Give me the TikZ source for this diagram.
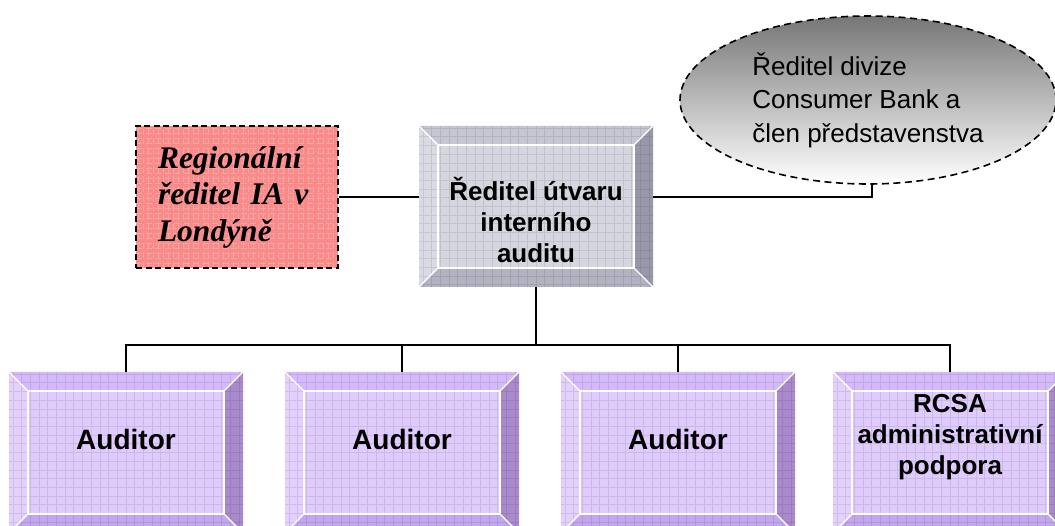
\documentclass[tikz,border=0pt]{standalone}
\usepackage{fontspec}
\setmainfont{Liberation Serif}
\setsansfont{Liberation Sans}
\usetikzlibrary{shapes.geometric}

% purple staff boxes
\definecolor{pface}{RGB}{224,204,252}
\definecolor{ptop}{RGB}{212,186,250}
\definecolor{pleft}{RGB}{228,208,253}
\definecolor{pright}{RGB}{168,138,205}
\definecolor{pbot}{RGB}{194,166,238}
% grey head box
\definecolor{gface}{RGB}{214,214,224}
\definecolor{gtop}{RGB}{198,198,210}
\definecolor{gleft}{RGB}{218,218,228}
\definecolor{gright}{RGB}{152,152,168}
\definecolor{gbot}{RGB}{178,178,194}
% regional box and board ellipse
\definecolor{regred}{RGB}{248,138,138}
\definecolor{ellgrey}{RGB}{118,118,118}

\def\ppb{path picture bounding box}

\tikzset{
  bevelbox/.style n args={5}{rectangle, inner sep=0pt,
    minimum width=234pt, minimum height=161pt,
    path picture={
      \fill[#1] ([shift={(19pt,-19pt)}]\ppb.north west) rectangle ([shift={(-19pt,19pt)}]\ppb.south east);
      \fill[#2] (\ppb.north west) -- (\ppb.north east) -- ([shift={(-19pt,-19pt)}]\ppb.north east) -- ([shift={(19pt,-19pt)}]\ppb.north west) -- cycle;
      \fill[#3] (\ppb.north west) -- (\ppb.south west) -- ([shift={(19pt,19pt)}]\ppb.south west) -- ([shift={(19pt,-19pt)}]\ppb.north west) -- cycle;
      \fill[#4] (\ppb.north east) -- (\ppb.south east) -- ([shift={(-19pt,19pt)}]\ppb.south east) -- ([shift={(-19pt,-19pt)}]\ppb.north east) -- cycle;
      \fill[#5] (\ppb.south west) -- (\ppb.south east) -- ([shift={(-19pt,19pt)}]\ppb.south east) -- ([shift={(19pt,19pt)}]\ppb.south west) -- cycle;
      \draw[black, opacity=.09, line width=.8pt, step=8.7pt] (\ppb.south west) grid (\ppb.north east);
      \draw[white, line width=1.4pt] ([shift={(19pt,-19pt)}]\ppb.north west) rectangle ([shift={(-19pt,19pt)}]\ppb.south east);
      \draw[white, line width=1.4pt] (\ppb.north west) -- ++(19pt,-19pt);
      \draw[white, line width=1.4pt] (\ppb.north east) -- ++(-19pt,-19pt);
      \draw[white, line width=1.4pt] (\ppb.south west) -- ++(19pt,19pt);
      \draw[white, line width=1.4pt] (\ppb.south east) -- ++(-19pt,19pt);
    }},
  purplebox/.style={bevelbox={pface}{ptop}{pleft}{pright}{pbot}},
  greybox/.style={bevelbox={gface}{gtop}{gleft}{gright}{gbot}},
  boxtext/.style={align=center, inner sep=0pt, font=\sffamily\bfseries\fontsize{26}{31}\selectfont},
  audtext/.style={inner sep=0pt, font=\sffamily\bfseries\fontsize{28}{32}\selectfont},
  regbox/.style={rectangle, draw=black, line width=1.8pt, dash pattern=on 6pt off 3.5pt,
    fill=regred, minimum width=202pt, minimum height=142pt, text width=158pt,
    inner xsep=22pt, inner ysep=0pt, align=left,
    font=\rmfamily\bfseries\itshape\fontsize{31.5}{36.5}\selectfont,
    path picture={\draw[white, opacity=.22, line width=.7pt, step=5pt] (\ppb.south west) grid (\ppb.north east);}},
  boardell/.style={ellipse, draw=black, line width=1.6pt, dash pattern=on 7pt off 4.5pt,
    top color=ellgrey, bottom color=white, minimum width=376pt, minimum height=168pt,
    inner sep=0pt, align=left, font=\sffamily\fontsize{26}{33.5}\selectfont},
  conn/.style={line width=2pt},
}

\begin{document}
\begin{tikzpicture}[x=1pt, y=-1pt]
  \clip (0,0) rectangle (1055,526);
  \fill[white] (0,0) rectangle (1055,526);

  % upper row
  \node[regbox] (reg) at (237,197) {Regionální\\ředitel IA v\\Londýně};
  \node[greybox] (ceo) at (536,206.5) {};
  \node[boxtext] (ceotext) at ([yshift=-13pt]ceo.center) {Ředitel útvaru\\interního\\auditu};
  \node[boardell] (board) at (868,100) {Ředitel divize\\Consumer Bank a\\člen představenstva};

  % lower row
  \node[purplebox] (a1) at (126,452.5) {};
  \node[purplebox] (a2) at (402,452.5) {};
  \node[purplebox] (a3) at (678,452.5) {};
  \node[purplebox] (rcsa) at (950,452.5) {};
  \node[audtext] (a1text) at ([yshift=13pt]a1.center) {Auditor};
  \node[audtext] (a2text) at ([yshift=13pt]a2.center) {Auditor};
  \node[audtext] (a3text) at ([yshift=13pt]a3.center) {Auditor};
  \node[boxtext] (rcsatext) at ([yshift=15.5pt]rcsa.center) {RCSA\\administrativní\\podpora};

  % reporting lines
  \coordinate (bus) at (536,345);
  \draw[conn] (reg.east) -- (reg.east -| ceo.west);
  \draw[conn] (reg.east -| ceo.east) -| ([xshift=4pt]board.south);
  \draw[conn] (ceo.south) -- (bus);
  \draw[conn] (a1.north) |- (bus);
  \draw[conn] (a2.north) |- (bus);
  \draw[conn] (a3.north) |- (bus);
  \draw[conn] (rcsa.north) |- (bus);
\end{tikzpicture}
\end{document}
